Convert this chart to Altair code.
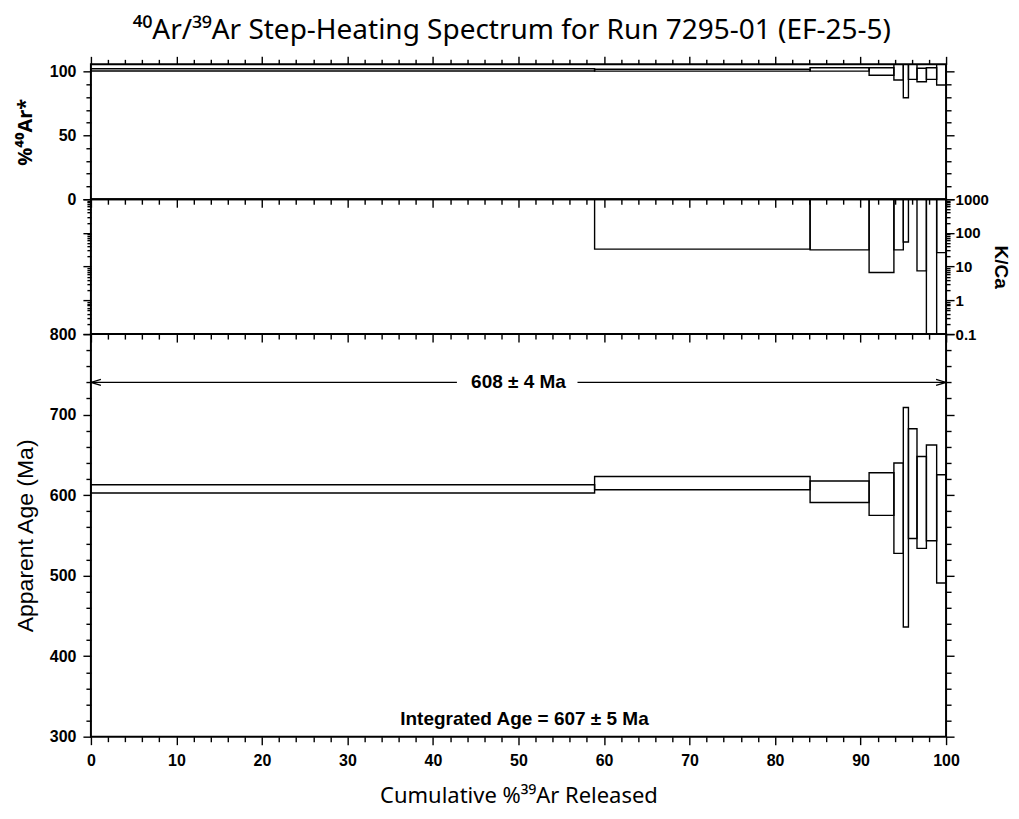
import altair as alt
import pandas as pd

FONT = "Liberation Sans"
SUPFONT = "Noto Sans"

# ---- data ----
step_names = ["A", "B", "C", "D", "E", "F", "G", "H", "I", "J"]
cum_edges = [0.0, 58.9, 84.1, 91.0, 93.9, 95.0, 95.6, 96.6, 97.7, 98.9, 100.0]
age_lo = [602.6, 606.7, 590.9, 574.8, 527.6, 436.2, 546.2, 533.8, 543.4, 490.8]
age_hi = [612.9, 623.2, 617.5, 627.8, 639.8, 708.9, 682.4, 648.0, 662.2, 625.3]
rad_lo = [100.6, 100.5, 100.5, 97.2, 93.5, 79.6, 94.0, 92.2, 94.0, 89.6]
rad_hi = [102.4, 101.9, 103.1, 103.1, 108.0, 112.0, 108.0, 102.7, 103.1, 110.0]
kca_lo = [1500.0, 33.0, 31.5, 6.7, 31.5, 54.0, 1500.0, 7.5, 0.01, 26.0]
kca_hi = [5000.0, 5000.0, 5000.0, 5000.0, 5000.0, 5000.0, 5000.0, 5000.0, 5000.0, 5000.0]

plateau_text = "608 \u00b1 4 Ma"
plateau_y = 740
plateau_seg_x1 = [0.0, 56.9]
plateau_seg_x2 = [42.8, 100.0]
arrow_x = [0.0, 100.0]
label_x = 50
integrated_x = 50.7
integrated_text = "Integrated Age = 607 \u00b1 5 Ma"
integrated_y = 322

x_major = list(range(0, 101, 10))
x_minor = [v for v in range(0, 101, 2) if v % 10]
rad_major = [0, 50, 100]
rad_minor = [10, 20, 30, 40, 60, 70, 80, 90]
kca_major = [0.1, 1, 10, 100, 1000]
kca_minor = [0.2, 0.3, 0.4, 0.5, 0.6, 0.7, 0.8, 0.9,
             2, 3, 4, 5, 6, 7, 8, 9,
             20, 30, 40, 50, 60, 70, 80, 90,
             200, 300, 400, 500, 600, 700, 800, 900]
age_major = [300, 400, 500, 600, 700, 800]
age_minor = [v for v in range(300, 801, 20) if v % 100]

df = pd.DataFrame({
    "step": step_names,
    "x1": cum_edges[:-1],
    "x2": cum_edges[1:],
    "age_lo": age_lo, "age_hi": age_hi,
    "rad_lo": rad_lo, "rad_hi": rad_hi,
    "kca_lo": kca_lo, "kca_hi": kca_hi,
})
seg_df = pd.DataFrame({"x1": plateau_seg_x1, "x2": plateau_seg_x2, "y": [plateau_y] * 2})
arrow_l = pd.DataFrame({"x": [arrow_x[0]], "y": [plateau_y]})
arrow_r = pd.DataFrame({"x": [arrow_x[1]], "y": [plateau_y]})
txt_df = pd.DataFrame({"x": [label_x, integrated_x], "y": [plateau_y, integrated_y],
                       "t": [plateau_text, integrated_text]})

W = 856
H1, H2, H3 = 135, 135, 403
MAJ, MIN, LOGMIN = 8, 5, 4

xscale = alt.Scale(domain=[0, 100], nice=False, zero=False)
rad_scale = alt.Scale(domain=[0, 105.8], nice=False, zero=False)
kca_scale = alt.Scale(type="log", domain=[0.1, 1000], nice=False)
age_scale = alt.Scale(domain=[300, 800], nice=False, zero=False)


def axis(orient, values, size, labels=False, title=None, **kw):
    args = dict(orient=orient, values=values, tickSize=size, labels=labels,
                domain=False, grid=False, ticks=True, tickColor="black",
                tickWidth=1.4, labelFlush=False, labelOverlap=False)
    args.update(kw)
    return alt.Axis(title=title, **args)


def panel(lo, hi, yscale, height, y_axes, x_axes, extra=()):
    layers = []
    for k, (ya, xa) in enumerate(zip(y_axes, x_axes)):
        if k == 0:
            base = alt.Chart(df).mark_rect(filled=False, color="black",
                                           strokeWidth=1.4, clip=True)
        else:
            base = alt.Chart(df).mark_rect(opacity=0, clip=True)
        layers.append(base.encode(
            x=alt.X("x1:Q", scale=xscale, axis=xa),
            x2="x2:Q",
            y=alt.Y(f"{lo}:Q", scale=yscale, axis=ya),
            y2=f"{hi}:Q",
        ))
    layers.extend(extra)
    return alt.layer(*layers).resolve_axis(x="independent", y="independent") \
        .properties(width=W, height=height)


# top panel: %40Ar*
p1 = panel(
    "rad_lo", "rad_hi", rad_scale, H1,
    [axis("left", rad_major, MAJ, labels=True, labelPadding=7,
          title="%\u2074\u2070Ar*", titleFont=SUPFONT, titleFontSize=20,
          titleFontWeight="bold", titlePadding=14),
     axis("left", rad_minor, MIN),
     axis("right", rad_major, MAJ),
     axis("right", rad_minor, MIN)],
    [axis("bottom", x_major, MAJ),
     axis("bottom", x_minor, MIN),
     axis("top", x_major, MAJ),
     axis("top", x_minor, MIN)],
)

# middle panel: K/Ca
p2 = panel(
    "kca_lo", "kca_hi", kca_scale, H2,
    [axis("left", kca_major, MAJ),
     axis("left", kca_minor, LOGMIN),
     axis("right", kca_major, MAJ, labels=True, labelPadding=1, format="~g",
          labelFontSize=15,
          title="K/Ca", titleFontSize=19, titleFontWeight="bold", titlePadding=2),
     axis("right", kca_minor, LOGMIN)],
    [axis("bottom", x_major, MAJ),
     axis("bottom", x_minor, MIN),
     None, None],
)

# bottom panel: apparent age
extra = [
    alt.Chart(seg_df).mark_rule(color="black", strokeWidth=1.2).encode(
        x=alt.X("x1:Q", scale=xscale, axis=None), x2="x2:Q",
        y=alt.Y("y:Q", scale=age_scale, axis=None)),
    alt.Chart(arrow_l).mark_point(shape="M 1 -0.3 L 0 0 L 1 0.3", size=400, filled=False,
                                  color="black", strokeWidth=1.2, opacity=1).encode(
        x=alt.X("x:Q", scale=xscale, axis=None),
        y=alt.Y("y:Q", scale=age_scale, axis=None)),
    alt.Chart(arrow_r).mark_point(shape="M -1 -0.3 L 0 0 L -1 0.3", size=400, filled=False,
                                  color="black", strokeWidth=1.2, opacity=1).encode(
        x=alt.X("x:Q", scale=xscale, axis=None),
        y=alt.Y("y:Q", scale=age_scale, axis=None)),
    alt.Chart(txt_df).mark_text(font=FONT, fontSize=19, fontWeight="bold", color="black",
                                align="center", baseline="middle").encode(
        x=alt.X("x:Q", scale=xscale, axis=None),
        y=alt.Y("y:Q", scale=age_scale, axis=None),
        text="t:N"),
]

p3 = panel(
    "age_lo", "age_hi", age_scale, H3,
    [axis("left", age_major, MAJ, labels=True, labelPadding=7,
          title="Apparent Age (Ma)", titleFontSize=23, titleFontWeight="normal", titlePadding=12),
     axis("left", age_minor, MIN),
     axis("right", age_major, MAJ),
     axis("right", age_minor, MIN)],
    [axis("bottom", x_major, MAJ, labels=True, labelPadding=8,
          title="Cumulative %\u00b3\u2079Ar Released", titleFont=SUPFONT, titleFontSize=22,
          titleFontWeight="normal", titlePadding=17),
     axis("bottom", x_minor, MIN),
     None, None],
    extra=extra,
)

chart = alt.vconcat(p1, p2, p3, spacing=0, bounds="flush").properties(
    title=alt.TitleParams(
        text="\u2074\u2070Ar/\u00b3\u2079Ar Step-Heating Spectrum for Run 7295-01 (EF-25-5)",
        font=SUPFONT, fontSize=28, fontWeight="normal", color="black",
        anchor="middle", offset=10),
    padding={"left": 5, "top": 8, "right": 0, "bottom": 0},
).configure_view(stroke="black", strokeWidth=2).configure_axis(
    labelFont=FONT, titleFont=FONT, labelFontSize=16, labelFontWeight="bold",
    labelColor="black", titleColor="black",
)

chart.save("out.html", embed_options={"renderer": "svg", "actions": False})
